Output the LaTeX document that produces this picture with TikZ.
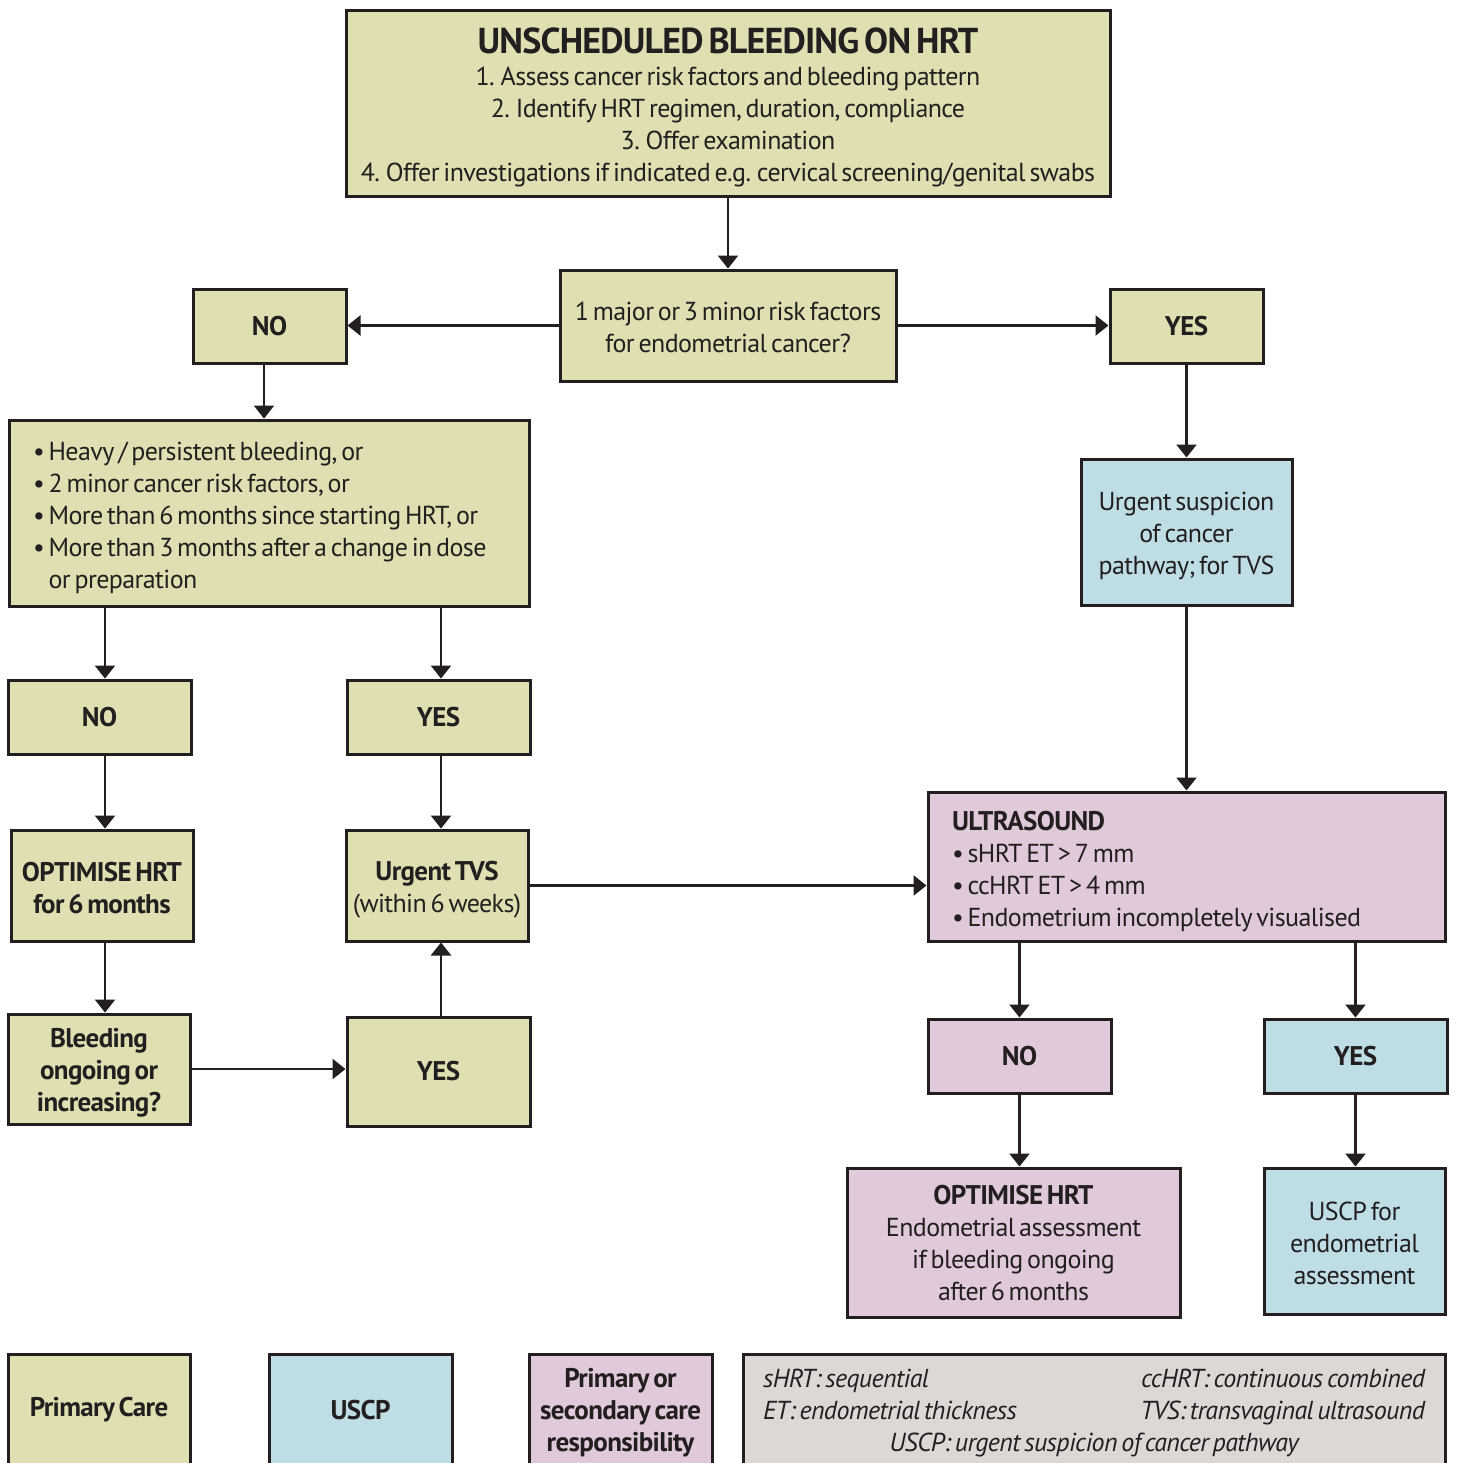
\documentclass[tikz,border=0pt]{standalone}
\usepackage{fontspec}
\setmainfont{PT Sans}[WordSpace=0.6,LetterSpace=-2.3]
\usetikzlibrary{arrows.meta}

\definecolor{pcfill}{HTML}{E0DFB1}
\definecolor{uscpfill}{HTML}{BEDDE5}
\definecolor{sharedfill}{HTML}{DFC9DA}
\definecolor{notefill}{HTML}{DDD8D5}
\definecolor{ink}{HTML}{231F20}

\tikzset{
  box/.style={draw=ink,line width=1.5pt,rectangle,align=center,inner sep=0pt,
    text=ink,font=\fontsize{13}{16}\selectfont},
  pcbox/.style={box,fill=pcfill},
  uscpbox/.style={box,fill=uscpfill},
  sharedbox/.style={box,fill=sharedfill},
  notebox/.style={box,fill=notefill},
  boxsize/.style 2 args={minimum width=#1*0.5pt,minimum height=#2*0.5pt},
  bold/.style={font=\fontsize{13.5}{16}\bfseries\selectfont},
  arrow/.style={-{Triangle[width=10pt,length=6.5pt]},
    every edge/.style={draw=ink,line width=1.25pt}}
}
% extra height on a first line, to set the text a little lower
\newcommand\lowerby[1]{\rule{0pt}{#1}}

\begin{document}
\begin{tikzpicture}[x=0.5pt,y=-0.5pt]
\clip (0,0) rectangle (1457,1463);
\fill[white] (0,0) rectangle (1457,1463);

% question path
\node[pcbox,boxsize={764}{186}] (top) at (728,103)
  {\lowerby{17pt}{\fontsize{18}{18}\bfseries UNSCHEDULED BLEEDING ON HRT}\\
   1. Assess cancer risk factors and bleeding pattern\\
   2. Identify HRT regimen, duration, compliance\\
   3. Offer examination\\
   4. Offer investigations if indicated e.g. cervical screening/genital swabs};
\node[pcbox,boxsize={336}{111}] (q) at (728,325.5)
  {\lowerby{11.5pt}1 major or 3 minor risk factors\\for endometrial cancer?};
\node[pcbox,bold,boxsize={153}{74}] (no1) at (269.5,326) {NO};
\node[pcbox,bold,boxsize={153}{74}] (yes1) at (1186.5,326) {YES};

% primary care branch
\node[pcbox,boxsize={520}{186},align=flush left,text width=236pt] (bullets) at (269,513)
  {\lowerby{14.5pt}\textbullet\ Heavy / persistent bleeding, or\\
   \textbullet\ 2 minor cancer risk factors, or\\
   \textbullet\ More than 6 months since starting HRT, or\\
   \textbullet\ More than 3 months after a change in dose\\
   \phantom{\textbullet\ }or preparation};
\node[pcbox,bold,boxsize={183}{74}] (no2) at (99.5,717) {NO};
\node[pcbox,bold,boxsize={183}{74}] (yes2) at (438.5,717) {YES};
\node[pcbox,bold,boxsize={182}{111}] (opt1) at (102,885.5) {\lowerby{12.5pt}OPTIMISE HRT\\for 6 months};
\node[pcbox,boxsize={182}{111}] (tvs) at (437,885.5)
  {\lowerby{13.5pt}{\bfseries\fontsize{13.5}{16}\selectfont Urgent TVS}\\(within 6 weeks)};
\node[pcbox,bold,boxsize={182}{110}] (bleed) at (99,1069) {\lowerby{13.5pt}Bleeding\\ongoing or\\increasing?};
\node[pcbox,bold,boxsize={183}{109}] (yes3) at (438.5,1071.5) {YES};

% uscp branch
\node[uscpbox,boxsize={211}{146}] (susp) at (1186.5,532) {\lowerby{13.5pt}Urgent suspicion\\of cancer\\pathway; for TVS};
\node[sharedbox,boxsize={517}{149},align=flush left,text width=234.5pt] (ultra) at (1186.5,866.5)
  {\lowerby{14.5pt}{\bfseries\fontsize{13.5}{16}\selectfont ULTRASOUND}\\
   \textbullet\ sHRT ET > 7 mm\\
   \textbullet\ ccHRT ET > 4 mm\\
   \textbullet\ Endometrium incompletely visualised};
\node[sharedbox,bold,boxsize={183}{74}] (no4) at (1019.5,1056) {NO};
\node[uscpbox,bold,boxsize={183}{74}] (yes4) at (1355.5,1056) {YES};
\node[sharedbox,boxsize={333}{149}] (opt2) at (1013.5,1242.5)
  {{\bfseries\fontsize{13.5}{16}\selectfont OPTIMISE HRT}\\Endometrial assessment\\if bleeding ongoing\\after 6 months};
\node[uscpbox,boxsize={181}{146}] (uscp) at (1354.5,1241) {\lowerby{11.5pt}USCP for\\endometrial\\assessment};

% key
\node[pcbox,bold,boxsize={182}{112}] (keypc) at (99,1410) {Primary Care};
\node[uscpbox,bold,boxsize={183}{112}] (keyuscp) at (360.5,1410) {USCP};
\node[sharedbox,bold,boxsize={183}{112}] (keyshared) at (620.5,1410)
  {\lowerby{12.5pt}Primary or\\secondary care\\responsibility};
\node[notebox,boxsize={702}{112},align=flush left,text width=331pt,
  font=\fontsize{13}{16}\itshape\selectfont] (notes) at (1094,1410)
  {\lowerby{12pt}sHRT: sequential\hfill ccHRT: continuous combined\\
   ET: endometrial thickness\hfill TVS: transvaginal ultrasound\\
   \hfill USCP: urgent suspicion of cancer pathway\hfill\null};

% columns the left-hand arrows run on
\coordinate (nocol) at (264,0);
\coordinate (leftcol) at (105,0);
\coordinate (midcol) at (441,0);

\path[arrow]
  (top.south) edge (q.north)
  (q.west) edge (q.west -| no1.east)
  (q.east) edge (q.east -| yes1.west)
  (no1.south -| nocol) edge (nocol |- bullets.north)
  (yes1.south) edge (yes1.south |- susp.north)
  (bullets.south -| leftcol) edge (leftcol |- no2.north)
  (bullets.south -| midcol) edge (midcol |- yes2.north)
  (no2.south -| leftcol) edge (leftcol |- opt1.north)
  (yes2.south -| midcol) edge (midcol |- tvs.north)
  (opt1.south -| leftcol) edge (leftcol |- bleed.north)
  (bleed.east) edge (bleed.east -| yes3.west)
  (yes3.north -| midcol) edge (midcol |- tvs.south)
  (tvs.east) edge (tvs.east -| ultra.west)
  (susp.south) edge (susp.south |- ultra.north)
  (ultra.south -| no4.north) edge (no4.north)
  (ultra.south -| yes4.north) edge (yes4.north)
  (no4.south) edge (no4.south |- opt2.north)
  (yes4.south) edge (yes4.south |- uscp.north);
\end{tikzpicture}
\end{document}
